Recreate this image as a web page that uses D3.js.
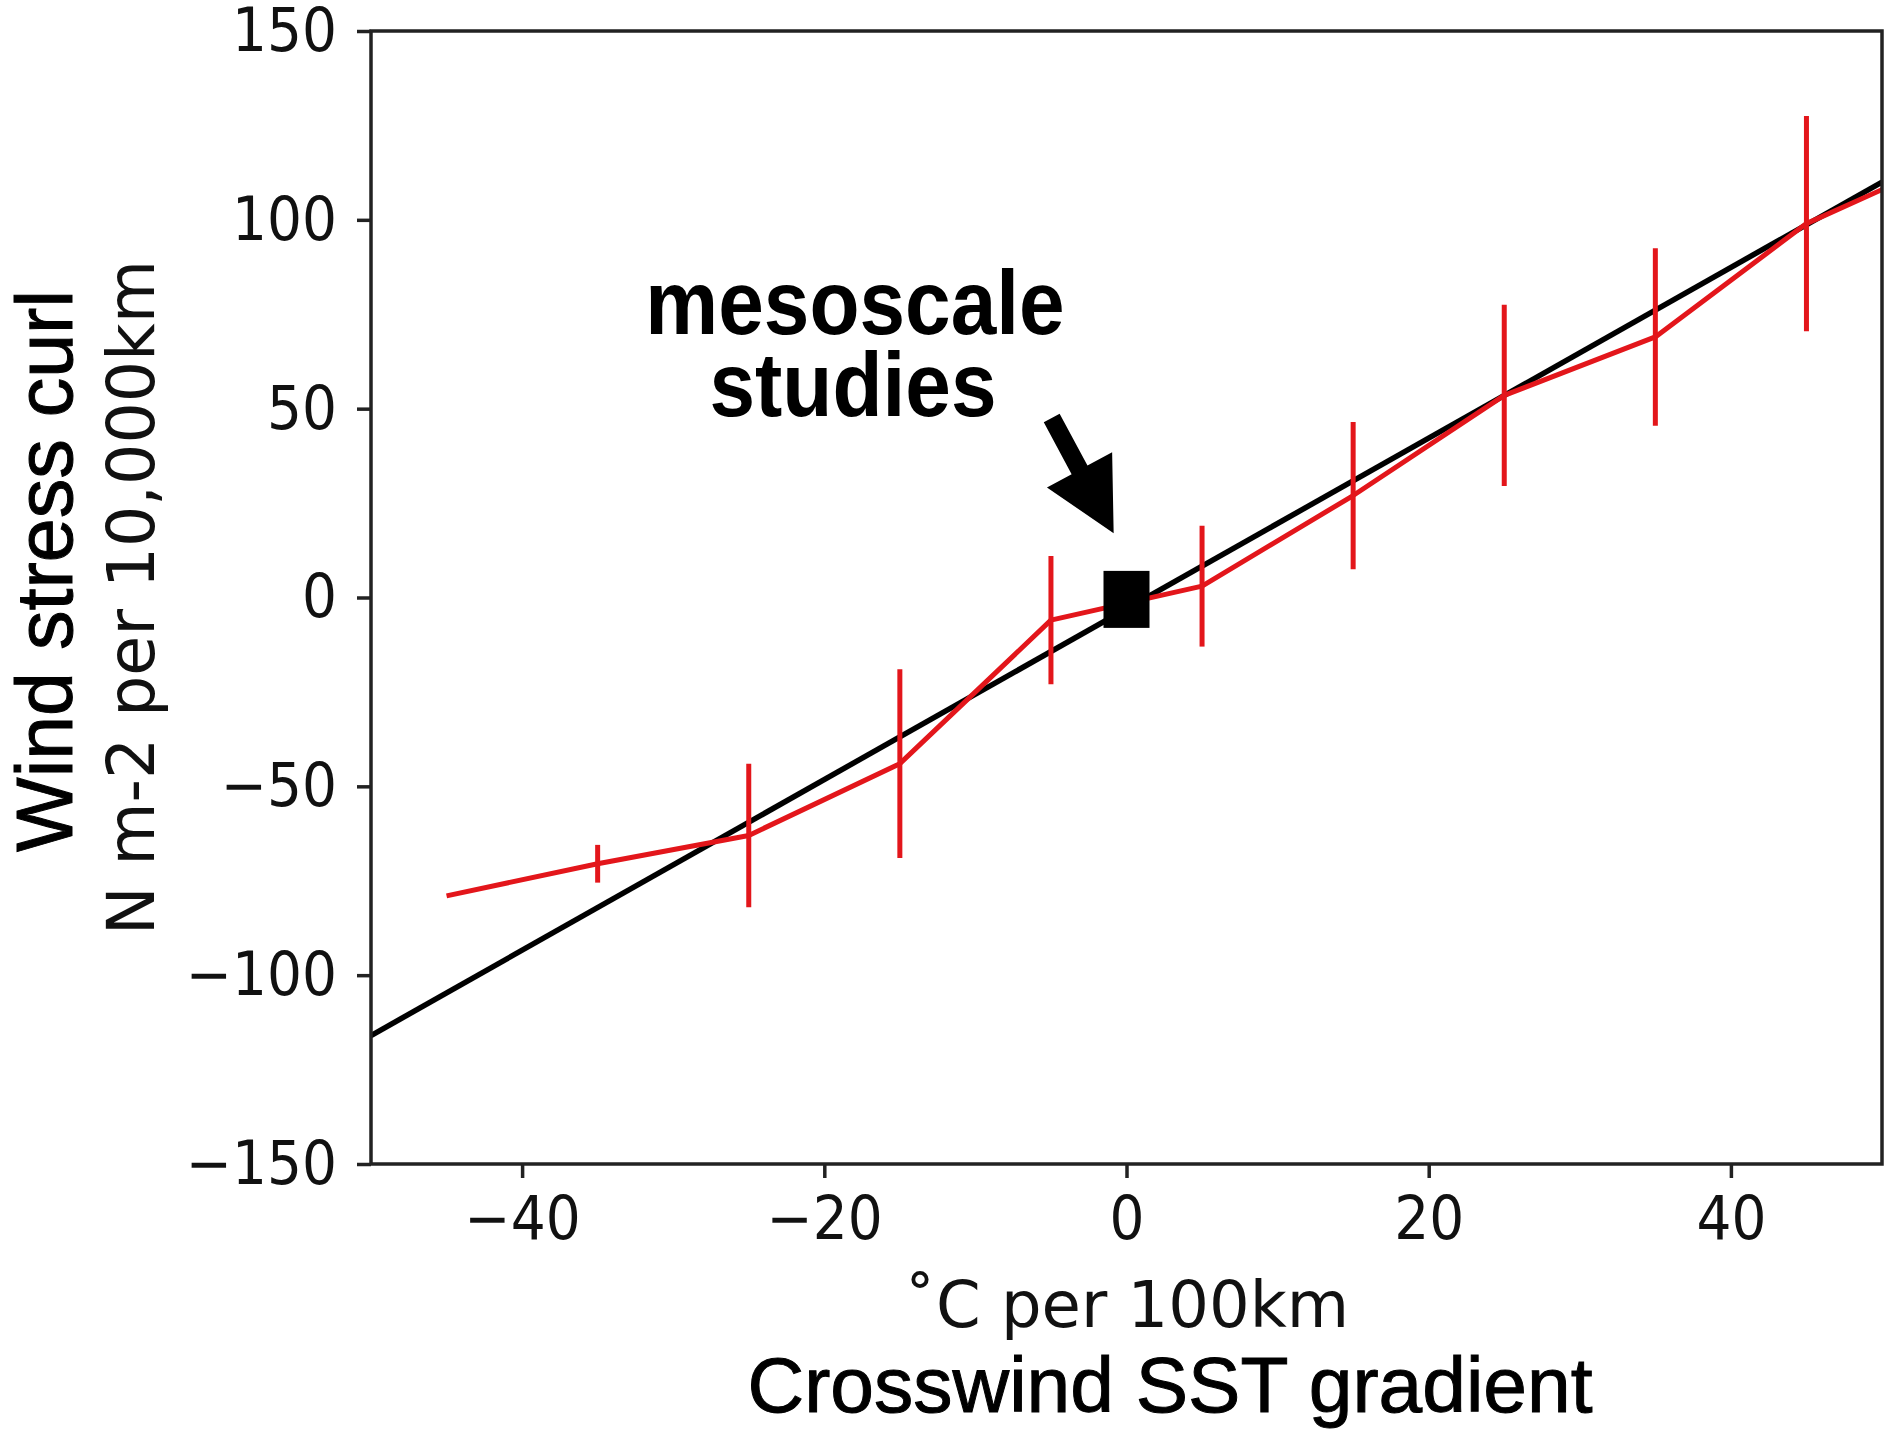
<!DOCTYPE html>
<html>
<head>
<meta charset="utf-8">
<script src="https://cdn.jsdelivr.net/npm/d3@7"></script>
<style>
  body { margin: 0; background: #fff; }
  svg { display: block; }
</style>
</head>
<body>
<svg id="chart" width="1895" height="1441"></svg>
<script>
// Binned wind stress curl against crosswind SST gradient
const gradientBins = [-45, -35, -25, -15, -5, 5, 15, 25, 35, 45, 55];
const curlMean     = [-79, -70.5, -63, -44, -6, 3, 27, 53.5, 69, 99, 117];
const curlSpread   = [0, 5, 19, 25, 17, 16, 19.5, 24, 23.5, 28.5, 0];

// Linear fit through the binned values
const fitSlope = 2.26;
const fitIntercept = -3;
const fitRange = [-50, 50];

const xTicks = [-40, -20, 0, 20, 40];
const yTicks = [-150, -100, -50, 0, 50, 100, 150];

// Typical range covered by mesoscale studies
const mesoPoint = { x: 0, y: -0.5 };
const arrowTail = { x: -4.95, y: 47.5 };
const arrowTip  = { x: -0.85, y: 17 };

const svg = d3.select("#chart");
const plot = { left: 371, right: 1882, top: 31, bottom: 1164 };

const x = d3.scaleLinear().domain([-50, 50]).range([plot.left, plot.right]);
const y = d3.scaleLinear().domain([-150, 150]).range([plot.bottom, plot.top]);

const minus = v => (v < 0 ? "\u2212" + Math.abs(v) : String(v));

svg.append("defs").append("clipPath").attr("id", "plot-clip")
  .append("rect")
  .attr("x", plot.left).attr("y", plot.top)
  .attr("width", plot.right - plot.left).attr("height", plot.bottom - plot.top);

const inner = svg.append("g").attr("clip-path", "url(#plot-clip)");

// fitted line
inner.append("line")
  .attr("x1", x(fitRange[0])).attr("y1", y(fitSlope * fitRange[0] + fitIntercept))
  .attr("x2", x(fitRange[1])).attr("y2", y(fitSlope * fitRange[1] + fitIntercept))
  .attr("stroke", "#000").attr("stroke-width", 5.5);

const points = gradientBins.map((g, i) => ({ g, m: curlMean[i], s: curlSpread[i] }));

// binned mean curve
inner.append("path")
  .datum(points)
  .attr("fill", "none")
  .attr("stroke", "#e3161b")
  .attr("stroke-width", 5)
  .attr("stroke-linejoin", "round")
  .attr("d", d3.line().x(d => x(d.g)).y(d => y(d.m)));

// spread bars
inner.selectAll("line.spread")
  .data(points.filter(d => d.s > 0))
  .join("line")
  .attr("class", "spread")
  .attr("x1", d => x(d.g)).attr("x2", d => x(d.g))
  .attr("y1", d => y(d.m - d.s)).attr("y2", d => y(d.m + d.s))
  .attr("stroke", "#e3161b")
  .attr("stroke-width", 5);

// axes
const tickFont = "DejaVu Sans, sans-serif";
const xAxis = svg.append("g")
  .attr("transform", `translate(0,${plot.bottom})`)
  .call(d3.axisBottom(x).tickValues(xTicks).tickFormat(minus).tickSize(14).tickPadding(15));
const yAxis = svg.append("g")
  .attr("transform", `translate(${plot.left},0)`)
  .call(d3.axisLeft(y).tickValues(yTicks).tickFormat(minus).tickSize(14).tickPadding(20));

[xAxis, yAxis].forEach(a => {
  a.select(".domain").remove();
  a.selectAll(".tick line").attr("stroke", "#222").attr("stroke-width", 3.5);
  a.selectAll(".tick text")
    .attr("fill", "#111")
    .attr("transform", "scale(1,1.1)")
    .style("font-family", tickFont)
    .style("font-size", "55px");
});

// frame
svg.append("rect")
  .attr("x", plot.left).attr("y", plot.top)
  .attr("width", plot.right - plot.left).attr("height", plot.bottom - plot.top)
  .attr("fill", "none").attr("stroke", "#222").attr("stroke-width", 3.5);

// mesoscale marker
const markW = 46, markH = 57;
svg.append("rect")
  .attr("x", x(mesoPoint.x) - markW / 2).attr("y", y(mesoPoint.y) - markH / 2)
  .attr("width", markW).attr("height", markH)
  .attr("fill", "#000");

// annotation arrow
(function drawArrow() {
  const tx = x(arrowTail.x), ty = y(arrowTail.y);
  const hx = x(arrowTip.x), hy = y(arrowTip.y);
  const len = Math.hypot(hx - tx, hy - ty);
  const ux = (hx - tx) / len, uy = (hy - ty) / len;
  const px = -uy, py = ux;
  const shaft = 9, head = 37, headLen = 72;
  const bx = hx - ux * headLen, by = hy - uy * headLen;
  const pts = [
    [tx + px * shaft, ty + py * shaft],
    [bx + px * shaft, by + py * shaft],
    [bx + px * head, by + py * head],
    [hx, hy],
    [bx - px * head, by - py * head],
    [bx - px * shaft, by - py * shaft],
    [tx - px * shaft, ty - py * shaft]
  ];
  svg.append("path")
    .attr("d", "M" + pts.map(p => p.join(",")).join("L") + "Z")
    .attr("fill", "#000");
})();

// annotation text (slightly tall lettering, two lines)
const noteStretch = 1.1;
const noteLines = [
  { text: "mesoscale", x: 855, y: 334 },
  { text: "studies", x: 853, y: 416 }
];
svg.append("text")
  .attr("transform", `scale(1,${noteStretch})`)
  .attr("text-anchor", "middle")
  .style("font-family", "Liberation Sans, Arial, sans-serif")
  .style("font-weight", "bold")
  .style("font-size", "82px")
  .attr("fill", "#000")
  .selectAll("tspan")
  .data(noteLines)
  .join("tspan")
  .attr("x", d => d.x)
  .attr("y", d => d.y / noteStretch)
  .text(d => d.text);

// axis titles
svg.append("text")
  .attr("x", (plot.left + plot.right) / 2).attr("y", 1327)
  .attr("text-anchor", "middle")
  .style("font-family", tickFont).style("font-size", "64px")
  .attr("fill", "#111")
  .text("\u02DAC per 100km");

svg.append("text")
  .attr("x", 1170).attr("y", 1412)
  .attr("text-anchor", "middle")
  .style("font-family", "Liberation Sans, Arial, sans-serif").style("font-size", "78.5px")
  .attr("fill", "#000").attr("stroke", "#000").attr("stroke-width", 1)
  .text("Crosswind SST gradient");

svg.append("text")
  .attr("transform", `translate(154,${(plot.top + plot.bottom) / 2}) rotate(-90)`)
  .attr("text-anchor", "middle")
  .style("font-family", tickFont).style("font-size", "65px")
  .attr("fill", "#111")
  .text("N m-2 per 10,000km");

svg.append("text")
  .attr("transform", "translate(72,571) rotate(-90)")
  .attr("text-anchor", "middle")
  .style("font-family", "Liberation Sans, Arial, sans-serif").style("font-size", "79px")
  .attr("fill", "#000").attr("stroke", "#000").attr("stroke-width", 1)
  .text("Wind stress curl");
</script>
</body>
</html>
